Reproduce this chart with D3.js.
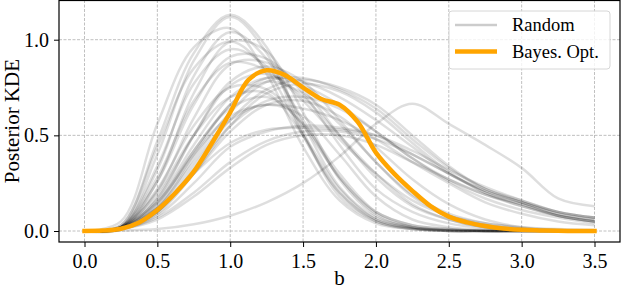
<!DOCTYPE html>
<html>
<head>
<meta charset="utf-8">
<script src="https://cdn.jsdelivr.net/npm/d3@7"></script>
<style>
  body { margin: 0; background: #fff; }
  svg text { font-family: "Liberation Serif", "Times New Roman", "DejaVu Serif", serif; fill: #000; }
</style>
</head>
<body>
<svg id="chart" width="622" height="290"></svg>
<script>
// sample grid for the random runs
const xGrid = [0, 0.25, 0.5, 0.75, 1.0, 1.25, 1.5, 1.75, 2.0, 2.25, 2.5, 2.75, 3.0, 3.25, 3.5];

// posterior KDE of each random run
const randomRuns = [
    [0, .03, .47, .93, 1.13, .96, .52, .18, .05, .01, 0, 0, 0, 0, 0],
    [0, .02, .40, .89, 1.12, .93, .50, .20, .06, .015, .003, 0, 0, 0, 0],
    [0, .05, .56, .96, 1.06, .82, .44, .16, .04, .01, 0, 0, 0, 0, 0],
    [0, .02, .32, .81, 1.04, .90, .56, .23, .07, .02, .005, 0, 0, 0, 0],
    [0, .01, .26, .72, .99, .94, .62, .27, .08, .02, .005, 0, 0, 0, 0],
    [0, .03, .44, .85, .99, .84, .50, .20, .05, .01, 0, 0, 0, 0, 0],
    [0, .02, .34, .77, .95, .86, .58, .28, .10, .03, .01, 0, 0, 0, 0],
    [0, .02, .26, .66, .91, .90, .72, .45, .22, .10, .04, .015, .005, 0, 0],
    [0, .015, .21, .59, .87, .88, .74, .50, .28, .13, .06, .02, .008, .003, 0],
    [0, .02, .28, .68, .88, .84, .68, .48, .30, .16, .08, .04, .02, .01, .005],
    [0, .01, .17, .50, .78, .86, .78, .58, .36, .19, .09, .04, .015, .005, 0],
    [0, .01, .12, .38, .62, .78, .80, .74, .64, .48, .33, .22, .16, .10, .07],
    [0, .01, .10, .34, .58, .74, .79, .75, .66, .50, .34, .22, .15, .09, .06],
    [0, .015, .14, .42, .66, .80, .78, .70, .58, .44, .30, .21, .15, .09, .06],
    [0, .01, .09, .30, .55, .72, .77, .73, .62, .46, .31, .20, .14, .08, .05],
    [0, .02, .16, .45, .70, .80, .76, .66, .52, .38, .27, .19, .14, .08, .05],
    [0, .01, .10, .32, .55, .68, .70, .64, .52, .38, .26, .17, .11, .07, .04],
    [0, .02, .15, .40, .60, .66, .64, .58, .48, .36, .25, .15, .09, .05, .03],
    [0, .01, .08, .25, .44, .52, .55, .54, .50, .40, .30, .21, .15, .10, .07],
    [0, .02, .12, .30, .46, .53, .54, .53, .50, .42, .32, .23, .16, .10, .07],
    [0, .01, .07, .20, .36, .47, .52, .52, .48, .40, .30, .20, .13, .08, .05],
    [0, .01, .06, .18, .33, .45, .50, .50, .45, .36, .27, .19, .13, .08, .05],
    [0, .02, .20, .50, .70, .72, .50, .22, .06, .015, 0, 0, 0, 0, 0],
    [0, .01, .15, .42, .64, .70, .56, .30, .10, .03, .01, 0, 0, 0, 0],
    [0, .02, .22, .55, .75, .74, .55, .28, .09, .02, .005, 0, 0, 0, 0],
    [0, .01, .12, .36, .58, .66, .60, .40, .18, .06, .02, .005, 0, 0, 0],
    [0, .01, .13, .40, .66, .78, .72, .56, .36, .18, .08, .03, .01, 0, 0],
    [0, .015, .18, .50, .76, .82, .70, .50, .30, .14, .06, .02, .005, 0, 0],
    [0, .01, .10, .30, .52, .66, .68, .60, .44, .27, .14, .06, .02, .005, 0],
    [0, .002, .01, .035, .08, .15, .25, .39, .56, .665, .56, .45, .33, .17, .13]
];

// Bayes. Opt. run, finer grid
const xBayes = [0, 0.125, 0.25, 0.375, 0.5, 0.625, 0.75, 0.875, 1.0, 1.125, 1.25, 1.375, 1.5, 1.625,
    1.75, 1.875, 2.0, 2.125, 2.25, 2.375, 2.5, 2.625, 2.75, 2.875, 3.0, 3.125, 3.25, 3.375, 3.5];
const yBayes = [0, .002, .012, .045, .11, .20, .31, .46, .62, .79, .84, .815, .75, .69,
    .66, .57, .41, .30, .21, .13, .075, .045, .026, .013, .006, .003, .001, .0005, 0];

const xTicks = [0, 0.5, 1.0, 1.5, 2.0, 2.5, 3.0, 3.5];
const yTicks = [0, 0.5, 1.0];
const legendLabels = ["Random", "Bayes. Opt."];

const serif = "'Liberation Serif', 'Times New Roman', 'DejaVu Serif', serif";

const margin = { top: 0, right: 2, bottom: 48, left: 59 };
const width = 622 - margin.left - margin.right;
const height = 290 - margin.top - margin.bottom;

const svg = d3.select("#chart");
const g = svg.append("g")
    .attr("transform", "translate(" + margin.left + "," + margin.top + ")");

const x = d3.scaleLinear().domain([-0.175, 3.675]).range([0, width]);
const y = d3.scaleLinear().domain([-0.0575, 1.2075]).range([height, 0]);

// grid
g.append("g").selectAll("line").data(xTicks).join("line")
    .attr("x1", d => x(d)).attr("x2", d => x(d))
    .attr("y1", 0).attr("y2", height)
    .attr("stroke", "#b0b0b0").attr("stroke-width", 0.8)
    .attr("stroke-dasharray", "3,1.5");
g.append("g").selectAll("line").data(yTicks).join("line")
    .attr("y1", d => y(d)).attr("y2", d => y(d))
    .attr("x1", 0).attr("x2", width)
    .attr("stroke", "#b0b0b0").attr("stroke-width", 0.8)
    .attr("stroke-dasharray", "3,1.5");

const line = d3.line()
    .x(d => x(d[0]))
    .y(d => y(d[1]))
    .curve(d3.curveCatmullRom.alpha(0.5));

// random runs
g.append("g").selectAll("path").data(randomRuns).join("path")
    .attr("d", run => line(run.map((v, i) => [xGrid[i], v])))
    .attr("fill", "none")
    .attr("stroke", "#000")
    .attr("stroke-opacity", 0.13)
    .attr("stroke-width", 2.5);

// bayes opt
g.append("path")
    .attr("d", line(yBayes.map((v, i) => [xBayes[i], v])))
    .attr("fill", "none")
    .attr("stroke", "#ffa500")
    .attr("stroke-width", 4.5)
    .attr("stroke-linecap", "square");

// axes
const xAxis = g.append("g")
    .attr("transform", "translate(0," + height + ")")
    .call(d3.axisBottom(x).tickValues(xTicks).tickFormat(d3.format(".1f")).tickSizeOuter(0).tickSize(5).tickPadding(6));
const yAxis = g.append("g")
    .call(d3.axisLeft(y).tickValues(yTicks).tickFormat(d3.format(".1f")).tickSizeOuter(0).tickSize(5).tickPadding(5));
[xAxis, yAxis].forEach(a => {
    a.attr("font-family", serif).attr("font-size", 20);
    a.select(".domain").remove();
    a.selectAll("line").attr("stroke", "#000").attr("stroke-width", 1);
    a.selectAll("text").attr("font-family", serif).style("font-family", serif).style("font-size", "20px");
});
xAxis.selectAll("text").attr("dy", "0.75em");

// frame
g.append("rect")
    .attr("x", 0).attr("y", 0.5)
    .attr("width", width).attr("height", height - 0.5)
    .attr("fill", "none").attr("stroke", "#000").attr("stroke-width", 1.2);

// labels
svg.append("text")
    .attr("x", margin.left + x(1.75))
    .attr("y", 285)
    .attr("text-anchor", "middle")
    .style("font-family", serif)
    .style("font-size", "21px")
    .text("b");
svg.append("text")
    .attr("transform", "translate(19," + (margin.top + height / 2) + ") rotate(-90)")
    .attr("text-anchor", "middle")
    .style("font-family", serif)
    .style("font-size", "21px")
    .text("Posterior KDE");

// legend
const legend = svg.append("g").attr("transform", "translate(449,11)");
legend.append("rect")
    .attr("width", 161).attr("height", 58).attr("rx", 3)
    .attr("fill", "#fff").attr("fill-opacity", 0.8)
    .attr("stroke", "#d6d6d6").attr("stroke-width", 1);
legendLabels.forEach((label, i) => {
    const ly = 14 + i * 26.5;
    legend.append("line")
        .attr("x1", 6).attr("x2", 48).attr("y1", ly).attr("y2", ly)
        .attr("stroke", i === 0 ? "#000" : "#ffa500")
        .attr("stroke-opacity", i === 0 ? 0.2 : 1)
        .attr("stroke-width", i === 0 ? 2.5 : 4.5);
    legend.append("text")
        .attr("x", 63).attr("y", ly)
        .attr("dy", "0.35em")
        .style("font-family", serif)
        .style("font-size", "18.5px")
        .text(label);
});
</script>
</body>
</html>
